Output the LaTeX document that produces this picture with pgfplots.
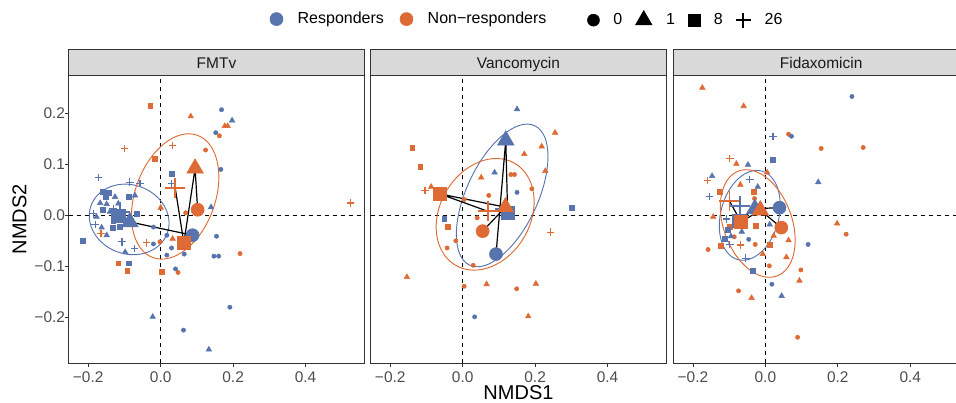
\documentclass[border=0pt]{standalone}
\usepackage{fontspec}
\setmainfont{Liberation Sans}
\usepackage{pgfplots}
\usepackage{pgfplotstable}
\pgfplotsset{compat=1.18}

\definecolor{cR}{HTML}{5874AF}
\definecolor{cN}{HTML}{DE6B35}
\definecolor{g10}{HTML}{1A1A1A}
\definecolor{g20}{HTML}{333333}
\definecolor{g30}{HTML}{4D4D4D}
\definecolor{g85}{HTML}{D9D9D9}

% single samples: NMDS1 NMDS2 group (r = responders, n = non-responders; 0/1/8/26 = day)
\pgfplotstableread{
x y c
-0.029 0.215 n8
0.083 0.194 n1
0.177 0.175 n1
0.185 0.175 n1
0.162 0.156 n0
-0.100 0.131 n26
0.033 0.137 n26
0.124 0.128 n0
-0.017 0.111 n8
0.069 0.005 n0
0.000 0.015 n1
0.524 0.024 n26
-0.165 -0.036 n26
0.033 -0.046 n1
-0.039 -0.054 n26
-0.002 -0.052 n0
0.219 -0.075 n0
-0.117 -0.094 n8
-0.092 -0.108 n8
0.003 -0.110 n8
0.048 -0.112 n0
0.168 0.207 r0
0.197 0.186 r1
0.152 0.162 r0
0.166 0.090 r0
0.030 0.082 r8
0.030 0.062 r26
-0.172 0.074 r26
-0.085 0.065 r26
-0.057 0.062 r26
-0.160 0.046 r8
-0.144 0.044 r8
-0.152 0.036 r8
-0.089 0.037 r8
-0.126 0.036 r1
-0.071 0.039 r1
-0.167 0.024 r1
-0.149 0.022 r1
-0.160 0.011 r8
-0.140 0.007 r1
-0.177 -0.003 r1
-0.186 0.003 r26
-0.133 -0.025 r8
-0.114 -0.023 r8
-0.181 -0.018 r26
-0.163 -0.024 r1
-0.149 -0.039 r1
-0.131 -0.010 r8
-0.131 0.013 r26
-0.117 0.023 r1
-0.066 0.003 r8
-0.098 -0.072 r1
-0.107 -0.052 r26
-0.072 -0.065 r26
-0.216 -0.050 r8
-0.089 -0.094 r8
0.139 0.016 r1
0.154 -0.041 r0
0.017 -0.039 r0
-0.020 -0.023 r0
-0.020 -0.056 r0
0.030 -0.064 r0
0.017 -0.078 r0
0.065 -0.076 r0
0.147 -0.080 r0
0.160 -0.080 r0
0.041 -0.105 r0
0.191 -0.180 r0
0.063 -0.225 r0
-0.022 -0.199 r1
0.133 -0.263 r1
}\ptsFMT

\pgfplotstableread{
x y c
-0.139 0.132 n8
-0.117 0.095 n8
-0.104 0.049 n26
-0.087 0.056 n1
-0.042 -0.022 n8
-0.019 -0.050 n0
-0.043 -0.064 n0
0.255 0.162 n1
0.218 0.135 n1
0.170 0.120 n1
0.228 0.087 n1
0.051 0.074 n1
0.133 0.080 n0
0.143 0.080 n0
0.191 0.052 n0
0.072 0.039 n0
0.004 0.031 n0
0.040 -0.005 n0
0.243 -0.033 n26
-0.154 -0.121 n1
0.029 -0.098 n0
0.004 -0.139 n0
0.066 -0.135 n1
0.149 -0.144 n0
0.202 -0.134 n1
0.181 -0.198 n1
0.150 0.208 r1
0.088 0.084 r1
0.150 0.045 r0
0.300 0.015 r8
-0.051 -0.006 r8
0.033 -0.199 r0
}\ptsVAN

\pgfplotstableread{
x y c
-0.174 0.250 n1
-0.060 0.214 n1
0.064 0.159 n0
0.154 0.131 n0
0.270 0.133 n0
-0.098 0.111 n26
-0.080 0.101 n1
0.005 0.084 n1
-0.159 0.068 n26
-0.069 0.060 n1
-0.126 0.046 n8
-0.032 0.046 n8
-0.030 0.033 n0
-0.144 -0.003 n1
-0.098 -0.023 n8
-0.027 -0.020 n8
0.198 -0.016 n1
0.223 -0.037 n0
-0.086 -0.042 n0
0.023 -0.040 n1
0.064 -0.049 n1
-0.069 -0.058 n26
-0.028 -0.057 n0
0.012 -0.057 n8
-0.123 -0.059 n8
-0.158 -0.067 n0
-0.007 -0.076 n1
0.058 -0.082 n1
0.011 -0.099 n0
0.098 -0.107 n0
0.094 -0.128 n1
-0.074 -0.148 n0
-0.038 -0.162 n1
0.089 -0.239 n0
0.239 0.233 r0
0.072 0.155 r0
0.021 0.154 r26
0.020 0.109 r8
-0.048 0.099 r1
-0.147 0.077 r1
-0.043 0.070 r26
0.146 0.065 r1
-0.021 0.056 r1
-0.154 0.037 r26
-0.107 -0.007 r26
-0.104 -0.029 r8
0.012 -0.018 r1
-0.065 -0.032 r1
-0.095 -0.041 r1
-0.112 -0.046 r8
-0.046 -0.047 r0
-0.098 -0.057 r26
0.118 -0.057 r0
-0.054 -0.084 r26
-0.035 -0.108 r8
0.018 -0.135 r0
0.045 -0.158 r1
}\ptsFID

% group centroids, in day order 0, 1, 8, 26
\pgfplotstableread{
x y c
0.088 -0.039 r0
-0.085 -0.013 r1
-0.117 0.000 r8
-0.112 0.006 r26
}\cenRFMT
\pgfplotstableread{
x y c
0.102 0.011 n0
0.095 0.092 n1
0.064 -0.054 n8
0.040 0.054 n26
}\cenNFMT
\pgfplotstableread{
x y c
0.092 -0.076 r0
0.119 0.147 r1
0.124 0.005 r8
0.118 0.012 r26
}\cenRVAN
\pgfplotstableread{
x y c
0.055 -0.031 n0
0.118 0.016 n1
-0.063 0.042 n8
0.069 0.008 n26
}\cenNVAN
\pgfplotstableread{
x y c
0.039 0.015 r0
-0.029 0.013 r1
-0.072 -0.010 r8
-0.069 0.018 r26
}\cenRFID
\pgfplotstableread{
x y c
0.044 -0.024 n0
-0.014 0.010 n1
-0.067 -0.013 n8
-0.099 0.028 n26
}\cenNFID

\pgfplotsset{
  panel/.style={
    width=221.7pt, height=216.2pt, scale only axis,
    xmin=-0.254, xmax=0.562, ymin=-0.290, ymax=0.275,
    axis line style={g20, line width=0.6pt},
    xtick={-0.2,0,0.2,0.4}, xticklabels={−0.2,0.0,0.2,0.4},
    tick align=outside, tick pos=left, major tick length=2.7pt,
    tick style={g20, line width=0.6pt},
    ticklabel style={font=\fontsize{11.6}{13}\selectfont, text=g30},
    yticklabel style={xshift=3.5pt},
  },
  small/.style={only marks, scatter, scatter src=explicit symbolic,
    scatter/classes={
      r0={mark=*, cR, mark size=1.6pt},
      r1={mark=triangle*, cR, mark size=2.4pt},
      r8={mark=square*, cR, mark size=1.8pt},
      r26={mark=+, cR, mark size=2.8pt, line width=0.9pt},
      n0={mark=*, cN, mark size=1.6pt},
      n1={mark=triangle*, cN, mark size=2.4pt},
      n8={mark=square*, cN, mark size=1.8pt},
      n26={mark=+, cN, mark size=2.8pt, line width=0.9pt}}},
  big/.style={only marks, scatter, scatter src=explicit symbolic,
    scatter/classes={
      r0={mark=*, cR, mark size=4.9pt},
      r1={mark=triangle*, cR, mark size=7.2pt},
      r8={mark=square*, cR, mark size=4.9pt},
      r26={mark=+, cR, mark size=7.5pt, line width=1.3pt},
      n0={mark=*, cN, mark size=4.9pt},
      n1={mark=triangle*, cN, mark size=7.2pt},
      n8={mark=square*, cN, mark size=4.9pt},
      n26={mark=+, cN, mark size=7.5pt, line width=1.3pt}}},
  path/.style={black, line width=0.9pt, no marks},
  zero/.style={black, line width=0.8pt, dash pattern=on 3pt off 3pt, no marks},
  leg/.style 2 args={legend style={draw=none, fill=none, legend columns=-1,
      font=\fontsize{12}{14}\selectfont, text=black,
      nodes={inner sep=0pt},
      /tikz/every odd column/.append style={column sep=#1},
      /tikz/every even column/.append style={column sep=#2}},
    legend image code/.code={\draw[##1] plot coordinates {(0pt,0pt)};}},
}

\newcommand{\strip}[2]{%
  \draw[g20, fill=g85, line width=0.6pt] (#1.north west) rectangle ([yshift=19.3pt]#1.north east);
  \node[anchor=base, font=\fontsize{11.6}{13}\selectfont, text=g10] at ([yshift=5pt]#1.north) {#2};}

\begin{document}
\begin{tikzpicture}
% FMTv
\begin{axis}[panel, name=ax1, at={(51.5pt,29.775pt)}, anchor=south west,
    ytick={-0.2,-0.1,0,0.1,0.2}, yticklabels={−0.2,−0.1,0.0,0.1,0.2},
    ylabel={NMDS2}, ylabel style={at={(axis description cs:-0.166,0.5)}, anchor=center,
      font=\fontsize{15}{17}\selectfont},
    leg={11pt}{12pt}, legend style={at={(axis description cs:0.6665,1.194)}, anchor=west}]
  \addlegendimage{only marks, mark=*, cR, mark size=4.9pt}
  \addlegendentry{Responders}
  \addlegendimage{only marks, mark=*, cN, mark size=4.9pt}
  \addlegendentry{Non−responders}
  \addplot[zero] coordinates {(0,-0.29) (0,0.275)};
  \addplot[zero] coordinates {(-0.254,0) (0.562,0)};
  \addplot[small] table[x=x, y=y, meta=c] {\ptsFMT};
  \draw[cR, line width=0.7pt, rotate around={-20:(axis cs:-0.087,-0.008)}] (axis cs:-0.087,-0.008) ellipse [x radius=30.4pt, y radius=25.9pt];
  \draw[cN, line width=0.7pt, rotate around={70:(axis cs:0.040,0.037)}] (axis cs:0.040,0.037) ellipse [x radius=48.8pt, y radius=30pt];
  \addplot[big] table[x=x, y=y, meta=c] {\cenRFMT};
  \addplot[big] table[x=x, y=y, meta=c] {\cenNFMT};
  \addplot[path] table[x=x, y=y] {\cenRFMT};
  \addplot[path] table[x=x, y=y] {\cenNFMT};
\end{axis}
\strip{ax1}{FMTv}

% Vancomycin
\begin{axis}[panel, name=ax2, at={(278.0pt,29.775pt)}, anchor=south west, ytick=\empty,
    xlabel={NMDS1}, xlabel style={at={(axis description cs:0.5,-0.127)}, anchor=base,
      font=\fontsize{15}{17}\selectfont},
    leg={10.5pt}{9.8pt}, legend style={at={(axis description cs:0.719,1.194)}, anchor=west}]
  \addlegendimage{only marks, mark=*, black, mark size=4.5pt}
  \addlegendentry{0}
  \addlegendimage{only marks, mark=triangle*, black, mark size=7.2pt}
  \addlegendentry{1}
  \addlegendimage{only marks, mark=square*, black, mark size=4.4pt}
  \addlegendentry{8}
  \addlegendimage{only marks, mark=+, black, mark size=5.6pt, line width=1.1pt}
  \addlegendentry{26}
  \addplot[zero] coordinates {(0,-0.29) (0,0.275)};
  \addplot[zero] coordinates {(-0.254,0) (0.562,0)};
  \addplot[small] table[x=x, y=y, meta=c] {\ptsVAN};
  \draw[cR, line width=0.7pt, rotate around={65:(axis cs:0.109,0.039)}] (axis cs:0.109,0.039) ellipse [x radius=57.7pt, y radius=26.7pt];
  \draw[cN, line width=0.7pt, rotate around={60:(axis cs:0.062,0.002)}] (axis cs:0.062,0.002) ellipse [x radius=44.2pt, y radius=33.9pt];
  \addplot[big] table[x=x, y=y, meta=c] {\cenRVAN};
  \addplot[big] table[x=x, y=y, meta=c] {\cenNVAN};
  \addplot[path] table[x=x, y=y] {\cenRVAN};
  \addplot[path] table[x=x, y=y] {\cenNVAN};
\end{axis}
\strip{ax2}{Vancomycin}

% Fidaxomicin
\begin{axis}[panel, name=ax3, at={(505.0pt,29.775pt)}, anchor=south west, ytick=\empty]
  \addplot[zero] coordinates {(0,-0.29) (0,0.275)};
  \addplot[zero] coordinates {(-0.254,0) (0.562,0)};
  \addplot[small] table[x=x, y=y, meta=c] {\ptsFID};
  \draw[cR, line width=0.7pt, rotate around={75:(axis cs:-0.043,0.0)}] (axis cs:-0.043,0.0) ellipse [x radius=34.4pt, y radius=21.8pt];
  \draw[cN, line width=0.7pt, rotate around={110:(axis cs:-0.021,-0.016)}] (axis cs:-0.021,-0.016) ellipse [x radius=41.9pt, y radius=25.7pt];
  \addplot[big] table[x=x, y=y, meta=c] {\cenRFID};
  \addplot[big] table[x=x, y=y, meta=c] {\cenNFID};
  \addplot[path] table[x=x, y=y] {\cenRFID};
  \addplot[path] table[x=x, y=y] {\cenNFID};
\end{axis}
\strip{ax3}{Fidaxomicin}

\pgfresetboundingbox
\path[use as bounding box] (0,0) rectangle (717pt,302.25pt);
\end{tikzpicture}
\end{document}
